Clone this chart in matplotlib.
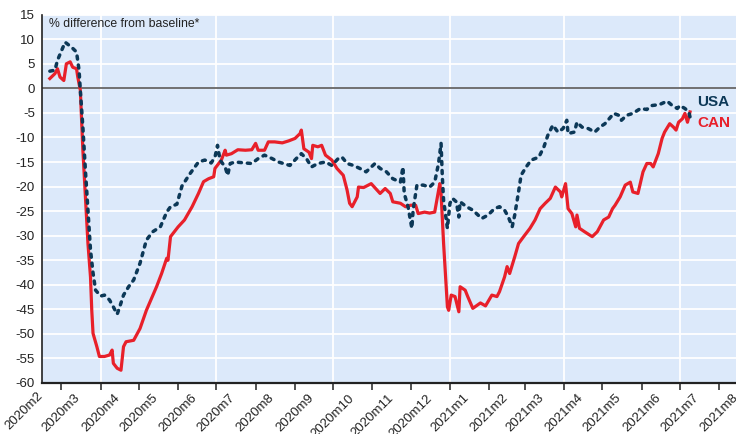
import matplotlib
matplotlib.use("Agg")
import matplotlib.pyplot as plt
import matplotlib.transforms as mtransforms
import pandas as pd

plt.rcParams['font.family'] = ['Liberation Sans', 'DejaVu Sans']

# ---------------- data ----------------
usa_dates = [
    "2020-02-21", "2020-02-25", "2020-02-27", "2020-03-04", "2020-03-09", "2020-03-13",
    "2020-03-15", "2020-03-16", "2020-03-18", "2020-03-20", "2020-03-22", "2020-03-24",
    "2020-03-26", "2020-03-28", "2020-04-01", "2020-04-04", "2020-04-08", "2020-04-11",
    "2020-04-14", "2020-04-16", "2020-04-19", "2020-04-23", "2020-04-27", "2020-05-02",
    "2020-05-07", "2020-05-12", "2020-05-18", "2020-05-23", "2020-05-26", "2020-05-31",
    "2020-06-04", "2020-06-10", "2020-06-17", "2020-06-22", "2020-06-27", "2020-06-30",
    "2020-07-02", "2020-07-04", "2020-07-08", "2020-07-10", "2020-07-12", "2020-07-16",
    "2020-07-24", "2020-07-29", "2020-08-03", "2020-08-08", "2020-08-14", "2020-08-19",
    "2020-08-28", "2020-09-02", "2020-09-06", "2020-09-10", "2020-09-14", "2020-09-19",
    "2020-09-25", "2020-09-30", "2020-10-05", "2020-10-08", "2020-10-12", "2020-10-17",
    "2020-10-22", "2020-10-27", "2020-11-03", "2020-11-07", "2020-11-12", "2020-11-17",
    "2020-11-23", "2020-11-25", "2020-11-26", "2020-11-29", "2020-12-02", "2020-12-03",
    "2020-12-06", "2020-12-11", "2020-12-16", "2020-12-20", "2020-12-23", "2020-12-25",
    "2020-12-26", "2020-12-27", "2020-12-30", "2021-01-01", "2021-01-03", "2021-01-06",
    "2021-01-08", "2021-01-09", "2021-01-14", "2021-01-19", "2021-01-26", "2021-01-31",
    "2021-02-05", "2021-02-09", "2021-02-13", "2021-02-16", "2021-02-19", "2021-02-21",
    "2021-02-24", "2021-02-26", "2021-03-02", "2021-03-06", "2021-03-12", "2021-03-16",
    "2021-03-19", "2021-03-23", "2021-03-27", "2021-03-31", "2021-04-03", "2021-04-04",
    "2021-04-09", "2021-04-11", "2021-04-15", "2021-04-20", "2021-04-25", "2021-04-29",
    "2021-05-03", "2021-05-10", "2021-05-14", "2021-05-16", "2021-05-20", "2021-05-25",
    "2021-05-31", "2021-06-05", "2021-06-09", "2021-06-15", "2021-06-21", "2021-06-25",
    "2021-06-29", "2021-07-01", "2021-07-05", "2021-07-08", "2021-07-09",
]
usa_values = [
    3.5, 3.7, 5.7, 9.4, 8.4, 7.4,
    3.7, -0.4, -7.9, -16.7, -24.8, -32.9,
    -37.6, -41.1, -42.3, -42.1, -43.1, -44.5,
    -46.0, -44.5, -42.1, -40.4, -39.0, -35.6,
    -30.9, -29.2, -28.2, -25.2, -24.1, -23.6,
    -19.9, -17.5, -15.0, -14.6, -15.2, -14.0,
    -11.6, -14.6, -16.0, -17.7, -15.3, -15.0,
    -15.2, -15.3, -14.3, -13.6, -14.3, -15.0,
    -15.7, -14.3, -13.3, -14.3, -16.0, -15.3,
    -15.0, -15.7, -14.3, -14.0, -15.3, -15.7,
    -16.3, -17.0, -15.3, -16.3, -17.0, -18.4,
    -19.1, -16.0, -21.4, -24.1, -28.5, -24.8,
    -19.7, -19.7, -20.1, -19.1, -15.3, -11.2,
    -18.0, -22.8, -28.5, -23.4, -22.4, -23.1,
    -26.2, -23.1, -24.1, -24.8, -26.5, -25.8,
    -24.5, -24.1, -24.8, -26.2, -28.2, -25.8,
    -21.1, -17.7, -16.0, -14.6, -14.0, -11.9,
    -9.6, -7.5, -8.9, -8.2, -6.5, -9.2,
    -8.9, -6.9, -7.9, -8.2, -8.9, -7.9,
    -7.2, -5.1, -5.5, -6.5, -5.5, -5.1,
    -4.1, -4.3, -3.5, -3.3, -2.6, -3.5,
    -4.1, -3.5, -4.1, -4.8, -5.8,
]

can_dates = [
    "2020-02-21", "2020-02-25", "2020-02-27", "2020-02-29", "2020-03-03", "2020-03-05",
    "2020-03-08", "2020-03-10", "2020-03-13", "2020-03-14", "2020-03-16", "2020-03-17",
    "2020-03-18", "2020-03-20", "2020-03-22", "2020-03-24", "2020-03-25", "2020-03-26",
    "2020-03-29", "2020-03-31", "2020-04-04", "2020-04-08", "2020-04-10", "2020-04-11",
    "2020-04-14", "2020-04-17", "2020-04-19", "2020-04-21", "2020-04-27", "2020-05-02",
    "2020-05-07", "2020-05-11", "2020-05-15", "2020-05-19", "2020-05-23", "2020-05-24",
    "2020-05-26", "2020-06-01", "2020-06-06", "2020-06-12", "2020-06-17", "2020-06-21",
    "2020-06-25", "2020-06-29", "2020-06-30", "2020-07-03", "2020-07-05", "2020-07-08",
    "2020-07-09", "2020-07-13", "2020-07-18", "2020-07-24", "2020-07-29", "2020-08-01",
    "2020-08-03", "2020-08-08", "2020-08-11", "2020-08-16", "2020-08-22", "2020-08-27",
    "2020-09-01", "2020-09-05", "2020-09-06", "2020-09-08", "2020-09-12", "2020-09-14",
    "2020-09-15", "2020-09-19", "2020-09-22", "2020-09-25", "2020-09-30", "2020-10-04",
    "2020-10-09", "2020-10-12", "2020-10-14", "2020-10-16", "2020-10-20", "2020-10-21",
    "2020-10-25", "2020-10-31", "2020-11-07", "2020-11-11", "2020-11-15", "2020-11-17",
    "2020-11-23", "2020-11-27", "2020-12-01", "2020-12-05", "2020-12-07", "2020-12-12",
    "2020-12-16", "2020-12-20", "2020-12-24", "2020-12-25", "2020-12-27", "2020-12-30",
    "2020-12-31", "2021-01-02", "2021-01-05", "2021-01-08", "2021-01-09", "2021-01-13",
    "2021-01-15", "2021-01-19", "2021-01-25", "2021-01-29", "2021-02-03", "2021-02-07",
    "2021-02-09", "2021-02-13", "2021-02-15", "2021-02-17", "2021-02-21", "2021-02-24",
    "2021-02-28", "2021-03-05", "2021-03-09", "2021-03-13", "2021-03-17", "2021-03-21",
    "2021-03-25", "2021-03-29", "2021-03-30", "2021-04-02", "2021-04-04", "2021-04-07",
    "2021-04-10", "2021-04-11", "2021-04-13", "2021-04-17", "2021-04-23", "2021-04-27",
    "2021-05-02", "2021-05-06", "2021-05-09", "2021-05-11", "2021-05-15", "2021-05-19",
    "2021-05-23", "2021-05-25", "2021-05-29", "2021-06-02", "2021-06-05", "2021-06-08",
    "2021-06-10", "2021-06-14", "2021-06-17", "2021-06-19", "2021-06-23", "2021-06-26",
    "2021-06-28", "2021-06-30", "2021-07-03", "2021-07-05", "2021-07-07", "2021-07-09",
]
can_values = [
    2.0, 3.0, 4.0, 2.3, 1.6, 5.0,
    5.4, 4.3, 4.0, 2.3, -0.4, -6.5,
    -12.6, -22.1, -31.6, -38.4, -45.2, -49.9,
    -52.6, -54.6, -54.6, -54.3, -53.3, -56.0,
    -57.0, -57.4, -52.6, -51.6, -51.3, -48.9,
    -45.2, -42.8, -40.4, -37.7, -34.6, -35.0,
    -30.2, -28.2, -26.8, -24.1, -21.4, -19.0,
    -18.4, -18.0, -16.3, -15.3, -14.6, -12.6,
    -13.6, -13.3, -12.5, -12.6, -12.5, -11.2,
    -12.6, -12.6, -10.9, -10.9, -11.1, -10.7,
    -10.2, -9.2, -8.5, -12.3, -13.0, -14.3,
    -11.6, -11.9, -11.6, -13.6, -14.6, -16.3,
    -17.7, -20.7, -23.4, -24.1, -22.1, -20.1,
    -20.2, -19.4, -21.4, -20.4, -21.4, -23.1,
    -23.4, -24.1, -23.8, -23.8, -25.5, -25.2,
    -25.4, -25.2, -19.4, -21.4, -31.6, -44.5,
    -45.2, -42.1, -42.4, -45.5, -40.4, -41.1,
    -42.4, -44.8, -43.7, -44.3, -42.1, -42.4,
    -41.4, -38.4, -36.3, -37.7, -34.3, -31.6,
    -30.2, -28.5, -26.8, -24.5, -23.4, -22.4,
    -20.1, -21.1, -22.1, -19.4, -24.5, -25.5,
    -28.2, -25.8, -28.5, -29.2, -30.2, -29.2,
    -26.8, -26.2, -24.5, -23.8, -22.1, -19.7,
    -19.1, -21.1, -21.4, -17.0, -15.3, -15.3,
    -16.0, -13.3, -10.2, -8.9, -7.2, -7.9,
    -8.5, -6.9, -6.2, -5.1, -6.9, -4.8,
]

month_ticks = ["2020-03-01", "2020-04-01", "2020-05-01", "2020-06-01", "2020-07-01",
               "2020-08-01", "2020-09-01", "2020-10-01", "2020-11-01", "2020-12-01",
               "2021-01-01", "2021-02-01", "2021-03-01", "2021-04-01", "2021-05-01",
               "2021-06-01", "2021-07-01", "2021-08-01"]
month_labels = ["2020m3", "2020m4", "2020m5", "2020m6", "2020m7", "2020m8", "2020m9",
                "2020m10", "2020m11", "2020m12", "2021m1", "2021m2", "2021m3", "2021m4",
                "2021m5", "2021m6", "2021m7", "2021m8"]
first_label_date = "2020-02-01"
first_label = "2020m2"
grid_months = ["2020-04-01", "2020-07-01", "2020-10-01", "2021-01-01", "2021-04-01", "2021-07-01"]
y_ticks = list(range(-60, 16, 5))

# ---------------- figure ----------------
USA_C = "#0c3857"
CAN_C = "#e8202a"
BG = "#dce9fa"

fig = plt.figure(figsize=(7.36, 4.34), dpi=100)
ax = fig.add_axes([41.7 / 736, 1 - 383 / 434, 1 - 41.7 / 736, (383 - 14.7) / 434])
ax.set_facecolor(BG)

ud = pd.to_datetime(usa_dates)
cd = pd.to_datetime(can_dates)

# grid
for yv in y_ticks:
    ax.axhline(yv, color="white", lw=1.3, zorder=1)
for gm in pd.to_datetime(grid_months):
    ax.axvline(gm, color="white", lw=1.3, zorder=1)
ax.axhline(0, color="#4a4a4a", lw=1.1, zorder=2)

ax.plot(cd, can_values, color=CAN_C, lw=2.3, zorder=3, solid_joinstyle="round")
ax.plot(ud, usa_values, color=USA_C, lw=2.5, zorder=4, linestyle=(0, (0.9, 1.7)),
        dash_capstyle="round")

ax.set_ylim(-60, 15)
ax.set_xlim(pd.Timestamp("2020-02-14 14:00"), pd.Timestamp("2021-08-14 05:00"))

ax.set_yticks(y_ticks)
ax.set_yticklabels([str(v) for v in y_ticks])
ax.tick_params(axis="y", length=0, pad=5, labelsize=9.5, labelcolor="#222222")

ax.set_xticks(pd.to_datetime(month_ticks))
ax.set_xticklabels(month_labels, rotation=45, ha="center", rotation_mode="default")
ax.tick_params(axis="x", length=5, width=1.2, pad=1.5, labelsize=9.5,
               labelcolor="#222222", color="#333333")

# label for the month start that falls left of the plotting area
ax.annotate(first_label, xy=(pd.Timestamp(first_label_date), 0),
            xycoords=("data", "axes fraction"), xytext=(0, -(5 / 1.389 + 1.5)),
            textcoords="offset points", rotation=45, ha="center", va="top",
            fontsize=9.5, color="#222222", annotation_clip=False)

for s in ["top", "right"]:
    ax.spines[s].set_visible(False)
ax.spines["left"].set_color("#222222")
ax.spines["left"].set_linewidth(1.2)
ax.spines["bottom"].set_color("#222222")
ax.spines["bottom"].set_linewidth(1.6)

bt = mtransforms.blended_transform_factory(ax.transAxes, ax.transData)
ax.text(0.0105, 13.1, "% difference from baseline*", transform=bt,
        fontsize=8.8, color="#222222", va="center", ha="left")

ax.text(0.944, -2.7, "USA", transform=bt, color=USA_C, fontsize=11, fontweight="bold",
        va="center", ha="left")
ax.text(0.944, -7.1, "CAN", transform=bt, color=CAN_C, fontsize=11, fontweight="bold",
        va="center", ha="left")

fig.savefig("out.png", dpi=100, facecolor="white")
